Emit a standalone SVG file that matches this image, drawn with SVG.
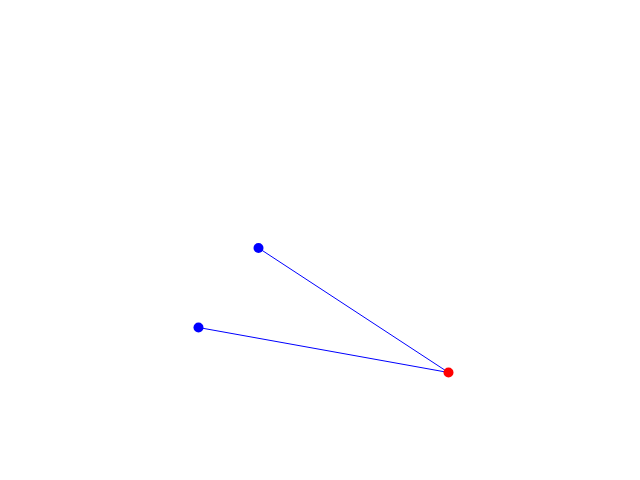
<svg xmlns="http://www.w3.org/2000/svg" width="640" height="480" viewBox="0 0 640 480">
<style>
.edge{stroke:#0000ff;stroke-width:1;fill:none}
.blue{fill:#0000ff}
.red{fill:#ff0000}
</style>
<rect width="640" height="480" fill="#ffffff"/>
<g id="connectors">
<line class="edge" x1="258.5" y1="248" x2="448.5" y2="372.5"/>
<line class="edge" x1="198.5" y1="327.5" x2="448.5" y2="372.5"/>
</g>
<g id="node-a"><circle class="blue" cx="258.5" cy="248" r="5"/></g>
<g id="node-b"><circle class="blue" cx="198.5" cy="327.5" r="5"/></g>
<g id="node-c"><circle class="red" cx="448.5" cy="372.5" r="5"/></g>
</svg>
